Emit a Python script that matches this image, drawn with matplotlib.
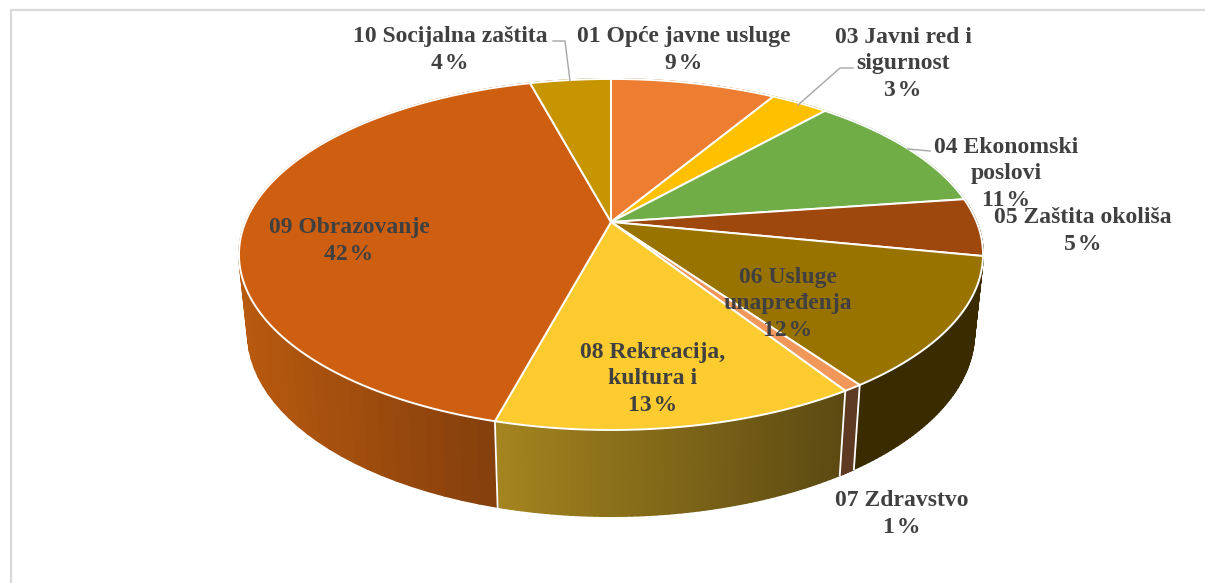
import numpy as np
import matplotlib
matplotlib.use("Agg")
import matplotlib.pyplot as plt
from matplotlib.collections import PolyCollection
from matplotlib.patches import Polygon

# data, clockwise from 12 o'clock
names = ["01 Opće javne usluge", "03 Javni red i\nsigurnost", "04 Ekonomski\nposlovi",
         "05 Zaštita okoliša", "06 Usluge\nunapređenja", "07 Zdravstvo",
         "08 Rekreacija,\nkultura i", "09 Obrazovanje", "10 Socijalna zaštita"]
values = [8.6, 3.0, 11.2, 5.3, 12.1, 0.7, 13.3, 41.6, 4.2]

top_colors = ["#ED7D31", "#FFC000", "#70AD47", "#9E480E", "#997300",
              "#F1975A", "#FBCB30", "#CF5F10", "#C69500"]
wall_left = ["#B0560E", "#B0880A", "#4F7A32", "#3A2C00", "#3A2C00",
             "#5F3A22", "#A5851F", "#B85A0E", "#8A6800"]
wall_right = ["#B0560E", "#B0880A", "#4F7A32", "#3A2C00", "#3A2C00",
              "#5F3A22", "#5C4A12", "#7F3C0D", "#8A6800"]

label_pos = [(684, 50), (903, 64), (1006, 174), (1083, 231), (788, 304),
             (902, 514), (653, 379), (349, 241), (450, 50)]
leaders = [[(553, 41), (565, 41), (570, 81)],
           [(853, 68), (840, 68), (798, 105)],
           [(930, 151), (908, 149)]]


def top_rim(t):
    # perspective circle of the upper face, t clockwise from top
    w = 1 + 0.185 * np.cos(t)
    return 611 + 365.6 * np.sin(t) / w, 222 - 169.5 * np.cos(t) / w


def bottom_rim(t):
    w = 1 + 0.185 * np.cos(t)
    return 611 + 357 * np.sin(t) / w, 299 - 177 * np.cos(t) / w


def hex_rgb(c):
    return np.array(matplotlib.colors.to_rgb(c))


fig = plt.figure(figsize=(12.05, 5.83), dpi=100)
ax = fig.add_axes([0, 0, 1, 1])
ax.set_xlim(0, 1205)
ax.set_ylim(583, 0)
ax.axis("off")

# chart frame, only top and left are in the crop
ax.plot([1205, 11, 11], [10, 10, 583], color="#D9D9D9", lw=1.6, solid_joinstyle="miter")

edges = np.cumsum([0] + values) / sum(values) * 2 * np.pi

# side walls first, top face hides the far part
for i in range(len(values)):
    ts = np.linspace(edges[i], edges[i + 1], 60)
    xr = top_rim(ts)[0]
    quads, cols = [], []
    for j in range(len(ts) - 1):
        x1, y1 = top_rim(ts[j])
        x2, y2 = top_rim(ts[j + 1])
        x3, y3 = bottom_rim(ts[j + 1])
        x4, y4 = bottom_rim(ts[j])
        quads.append([(x1, y1), (x2, y2), (x3, y3), (x4, y4)])
        # shading follows screen x, light on the left
        f = (xr.max() - x1) / (xr.max() - xr.min())
        cols.append(hex_rgb(wall_left[i]) * f + hex_rgb(wall_right[i]) * (1 - f))
    ax.add_collection(PolyCollection(quads, facecolors=cols, edgecolors=cols, linewidths=1.2, zorder=2))

# white seams on the visible side
for e in edges[:-1]:
    if 0.65 * np.pi < e < 1.35 * np.pi:
        x1, y1 = top_rim(e)
        x2, y2 = bottom_rim(e)
        ax.plot([x1, x2], [y1, y2], color="white", lw=1.3, zorder=3)

# top face
for i in range(len(values)):
    ts = np.linspace(edges[i], edges[i + 1], 120)
    xs, ys = top_rim(ts)
    pts = [(611, 222)] + list(zip(xs, ys))
    ax.add_patch(Polygon(pts, closed=True, facecolor=top_colors[i], edgecolor="white",
                         lw=1.4, joinstyle="round", zorder=4))

for pts in leaders:
    ax.plot([p[0] for p in pts], [p[1] for p in pts], color="#A6A6A6", lw=1.0, zorder=5)

for name, v, (x, y) in zip(names, values, label_pos):
    ax.text(x, y, f"{name}\n{round(v)}\u200a%", ha="center", va="center", multialignment="center",
            family="Liberation Serif", weight="bold", fontsize=17.0, color="#404040",
            linespacing=1.37, zorder=6)

fig.savefig("out.png", dpi=100)
